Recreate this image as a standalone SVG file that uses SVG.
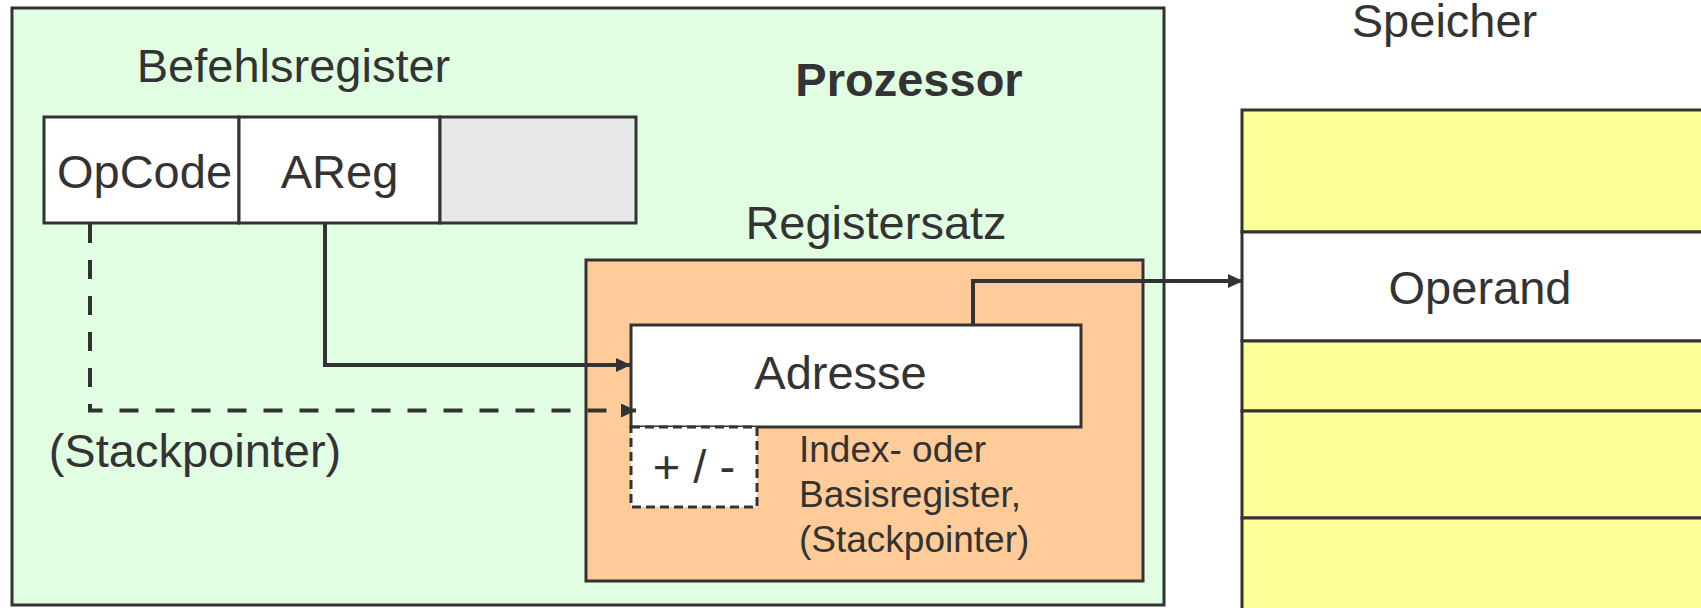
<svg xmlns="http://www.w3.org/2000/svg" width="1701" height="608" viewBox="0 0 1701 608">
<defs>
<style>
.t{font-family:"Liberation Sans",Arial,sans-serif;font-size:47px;fill:#333333}
.s{font-size:37px}
.b{font-weight:bold}
.box{stroke:#333333;stroke-width:3}
.con{fill:none;stroke:#333333;stroke-width:4}
</style>
<marker id="arr" markerUnits="userSpaceOnUse" markerWidth="16" markerHeight="14" refX="15" refY="7" orient="auto">
<path d="M0,0 L15,7 L0,14 z" fill="#333333"/>
</marker>
</defs>
<rect width="1701" height="608" fill="#ffffff"/>
<g id="prozessor">
<rect class="box" x="12" y="8" width="1152" height="597" fill="#e2fee2"/>
<text class="t b" x="909" y="96" text-anchor="middle">Prozessor</text>
</g>
<g id="befehlsregister">
<text class="t" x="293.5" y="82" text-anchor="middle">Befehlsregister</text>
<rect class="box" x="44" y="117" width="195" height="106" fill="#ffffff"/>
<rect class="box" x="239" y="117" width="201" height="106" fill="#ffffff"/>
<rect class="box" x="440" y="117" width="196" height="106" fill="#e8e8e8"/>
<text class="t" x="144.5" y="188" text-anchor="middle">OpCode</text>
<text class="t" x="339.5" y="188" text-anchor="middle">AReg</text>
</g>
<g id="registersatz">
<text class="t" x="876" y="239" text-anchor="middle">Registersatz</text>
<rect class="box" x="586" y="260" width="557" height="321" fill="#ffcc99"/>
</g>
<g id="adresse">
<rect class="box" x="631" y="325" width="450" height="102" fill="#ffffff"/>
<text class="t" x="840.5" y="389" text-anchor="middle">Adresse</text>
</g>
<g id="plusminus">
<rect x="631" y="427" width="126" height="80" fill="#ffffff" stroke="#333333" stroke-width="3" stroke-dasharray="9 5"/>
<text class="t" x="694" y="483" text-anchor="middle">+ / -</text>
</g>
<g id="index-label">
<text class="t s" x="799" y="461.5">Index- oder</text>
<text class="t s" x="799" y="506.5">Basisregister,</text>
<text class="t s" x="799" y="551.5">(Stackpointer)</text>
</g>
<g id="stackpointer-label">
<text class="t" x="195" y="466.5" text-anchor="middle">(Stackpointer)</text>
</g>
<g id="speicher">
<text class="t" x="1444.5" y="36.5" text-anchor="middle">Speicher</text>
<rect class="box" x="1242" y="110" width="480" height="122" fill="#ffff99"/>
<rect class="box" x="1242" y="232" width="480" height="109" fill="#ffffff"/>
<rect class="box" x="1242" y="341" width="480" height="70" fill="#ffff99"/>
<rect class="box" x="1242" y="411" width="480" height="107" fill="#ffff99"/>
<rect class="box" x="1242" y="518" width="480" height="110" fill="#ffff99"/>
<text class="t" x="1480" y="304" text-anchor="middle">Operand</text>
</g>
<g id="connectors">
<path class="con" d="M325,223 V365 H631" marker-end="url(#arr)"/>
<path class="con" d="M90,224 V410.5 H636" stroke-dasharray="19 17" marker-end="url(#arr)"/>
<path class="con" d="M973,325 V281 H1243" marker-end="url(#arr)"/>
</g>
</svg>
